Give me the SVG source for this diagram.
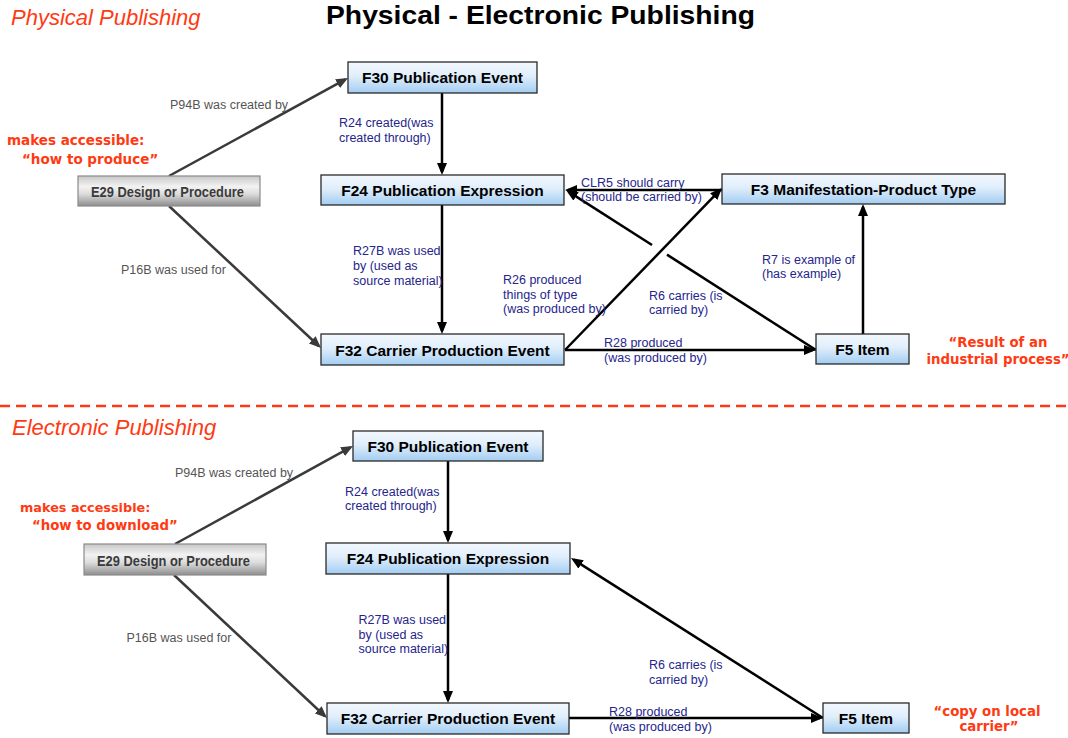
<svg xmlns="http://www.w3.org/2000/svg" width="1068" height="738" viewBox="0 0 1068 738">
  <defs>
    <linearGradient id="blueGrad" x1="0" y1="0" x2="0" y2="1">
      <stop offset="0" stop-color="#f3f8fe"/>
      <stop offset="0.45" stop-color="#e0eefb"/>
      <stop offset="1" stop-color="#a3cdf2"/>
    </linearGradient>
    <linearGradient id="grayGrad" x1="0" y1="0" x2="0" y2="1">
      <stop offset="0" stop-color="#c8c8c8"/>
      <stop offset="0.35" stop-color="#f2f2f2"/>
      <stop offset="0.6" stop-color="#dcdcdc"/>
      <stop offset="1" stop-color="#8e8e8e"/>
    </linearGradient>
    <marker id="arrowBlack" viewBox="0 0 12 10" refX="9" refY="5" markerWidth="12" markerHeight="10" markerUnits="userSpaceOnUse" orient="auto">
      <path d="M0,0 L12,5 L0,10 z" fill="#000"/>
    </marker>
    <marker id="arrowGray" viewBox="0 0 12 10" refX="9" refY="5" markerWidth="12" markerHeight="10" markerUnits="userSpaceOnUse" orient="auto">
      <path d="M0,0 L12,5 L0,10 z" fill="#3a3a3a"/>
    </marker>
  </defs>
  <style>
    .node rect { fill: url(#blueGrad); stroke: #2a2a2a; stroke-width: 1.3; }
    .node text { font-family: "Liberation Sans", Arial, sans-serif; font-weight: bold; font-size: 15.5px; fill: #000; text-anchor: middle; }
    .gnode rect { fill: url(#grayGrad); stroke: #8a8a8a; stroke-width: 1.2; }
    .gnode text { font-family: "Liberation Sans", Arial, sans-serif; font-weight: bold; font-size: 14.5px; fill: #3a3a3a; }
    .edge { stroke: #000; stroke-width: 2.5; fill: none; }
    .gedge { stroke: #3a3a3a; stroke-width: 2.5; fill: none; }
    .lbl { font-family: "Liberation Sans", Arial, sans-serif; font-size: 12.5px; fill: #25258c; }
    .glbl { font-family: "Liberation Sans", Arial, sans-serif; font-size: 12.5px; fill: #555; }
    .red { font-family: "DejaVu Sans", Verdana, sans-serif; font-size: 13.3px; font-weight: bold; fill: #ff3a12; }
    .redb { font-family: "DejaVu Sans", Verdana, sans-serif; font-size: 13.5px; font-weight: bold; fill: #ff3a12; }
    .sect { font-family: "Liberation Sans", Arial, sans-serif; font-size: 22px; font-style: italic; fill: #ff3a12; }
    .title { font-family: "Liberation Sans", Arial, sans-serif; font-size: 26px; font-weight: bold; fill: #000; }
  </style>

  <rect width="1068" height="738" fill="#fff"/>

  <!-- Titles and annotations -->
  <text class="title" x="326" y="24" textLength="429" lengthAdjust="spacingAndGlyphs">Physical - Electronic Publishing</text>
  <text class="sect" x="11" y="25">Physical Publishing</text>
  <text class="sect" x="12" y="435">Electronic Publishing</text>
  <line x1="0" y1="406" x2="1068" y2="406" stroke="#ff3a12" stroke-width="2.5" stroke-dasharray="10,6"/>

  <text class="redb" x="7" y="145">makes accessible:</text>
  <text class="redb" x="22" y="164">“how to produce”</text>
  <text class="red" x="998" y="347" text-anchor="middle">“Result of an</text>
  <text class="red" x="998" y="364" text-anchor="middle">industrial process”</text>

  <text class="red" x="20" y="512" style="font-size:12.8px">makes accessible:</text>
  <text class="red" x="32" y="530">“how to download”</text>
  <text class="red" x="987" y="716" text-anchor="middle">“copy on local</text>
  <text class="red" x="989" y="731" text-anchor="middle">carrier”</text>

  <!-- Connectors -->
  <g id="connectors">
    <!-- top section -->
    <line class="gedge" x1="169" y1="176" x2="345.4" y2="79.4" marker-end="url(#arrowGray)"/>
    <line class="gedge" x1="169" y1="206" x2="318.8" y2="346" marker-end="url(#arrowGray)"/>
    <line class="edge" x1="442" y1="93" x2="442" y2="172" marker-end="url(#arrowBlack)"/>
    <line class="edge" x1="442" y1="205" x2="442" y2="331" marker-end="url(#arrowBlack)"/>
    <line class="edge" x1="722" y1="190" x2="568" y2="190" marker-end="url(#arrowBlack)"/>
    <line class="edge" x1="565" y1="350" x2="719.9" y2="190.2" marker-end="url(#arrowBlack)"/>
    <line class="edge" x1="816" y1="350" x2="667" y2="254.6"/>
    <line class="edge" x1="652" y1="245" x2="568.5" y2="191.6" marker-end="url(#arrowBlack)"/>
    <line class="edge" x1="565" y1="350" x2="813" y2="350" marker-end="url(#arrowBlack)"/>
    <line class="edge" x1="863" y1="334" x2="863" y2="207" marker-end="url(#arrowBlack)"/>

    <text class="glbl" x="170" y="108.5">P94B was created by</text>
    <text class="glbl" x="121" y="274">P16B was used for</text>
    <text class="lbl" x="339" y="127">R24 created(was</text>
    <text class="lbl" x="339" y="141.5">created through)</text>
    <text class="lbl" x="353" y="255">R27B was used</text>
    <text class="lbl" x="353" y="270">by (used as</text>
    <text class="lbl" x="353" y="285">source material)</text>
    <text class="lbl" x="581" y="187">CLR5 should carry</text>
    <text class="lbl" x="581" y="201">(should be carried by)</text>
    <text class="lbl" x="503" y="284">R26 produced</text>
    <text class="lbl" x="503" y="298.5">things of type</text>
    <text class="lbl" x="503" y="313">(was produced by)</text>
    <text class="lbl" x="649" y="299.5">R6 carries (is</text>
    <text class="lbl" x="649" y="314">carried by)</text>
    <text class="lbl" x="604" y="347">R28 produced</text>
    <text class="lbl" x="604" y="362">(was produced by)</text>
    <text class="lbl" x="762" y="263.5">R7 is example of</text>
    <text class="lbl" x="762" y="278">(has example)</text>

    <!-- bottom section -->
    <line class="gedge" x1="175" y1="544" x2="350.4" y2="447.4" marker-end="url(#arrowGray)"/>
    <line class="gedge" x1="174" y1="575" x2="324.8" y2="716" marker-end="url(#arrowGray)"/>
    <line class="edge" x1="448" y1="461" x2="448" y2="540" marker-end="url(#arrowBlack)"/>
    <line class="edge" x1="448" y1="574" x2="448" y2="700" marker-end="url(#arrowBlack)"/>
    <line class="edge" x1="823" y1="718" x2="573.5" y2="559.6" marker-end="url(#arrowBlack)"/>
    <line class="edge" x1="569" y1="718" x2="820" y2="718" marker-end="url(#arrowBlack)"/>

    <text class="glbl" x="175" y="477">P94B was created by</text>
    <text class="glbl" x="126.5" y="642">P16B was used for</text>
    <text class="lbl" x="345" y="495.5">R24 created(was</text>
    <text class="lbl" x="345" y="510">created through)</text>
    <text class="lbl" x="358.5" y="623.5">R27B was used</text>
    <text class="lbl" x="358.5" y="638.5">by (used as</text>
    <text class="lbl" x="358.5" y="653">source material)</text>
    <text class="lbl" x="649" y="668.5">R6 carries (is</text>
    <text class="lbl" x="649" y="683.5">carried by)</text>
    <text class="lbl" x="609" y="716">R28 produced</text>
    <text class="lbl" x="609" y="731">(was produced by)</text>
  </g>

  <!-- Top nodes -->
  <g id="e29-top" class="gnode">
    <rect x="78" y="176" width="182" height="30"/>
    <text x="91" y="197" textLength="153" lengthAdjust="spacingAndGlyphs">E29 Design or Procedure</text>
  </g>
  <g id="f30-top" class="node">
    <rect x="348" y="62" width="189" height="31"/>
    <text x="442.5" y="83">F30 Publication Event</text>
  </g>
  <g id="f24-top" class="node">
    <rect x="321" y="175" width="243" height="30"/>
    <text x="442.5" y="196">F24 Publication Expression</text>
  </g>
  <g id="f32-top" class="node">
    <rect x="321" y="334" width="243" height="31"/>
    <text x="442.5" y="356">F32 Carrier Production Event</text>
  </g>
  <g id="f3-top" class="node">
    <rect x="722" y="174" width="283" height="30"/>
    <text x="863.5" y="195">F3 Manifestation-Product Type</text>
  </g>
  <g id="f5-top" class="node">
    <rect x="816" y="334" width="93" height="30"/>
    <text x="862.5" y="355">F5 Item</text>
  </g>

  <!-- Bottom nodes -->
  <g id="e29-bottom" class="gnode">
    <rect x="84" y="544" width="182" height="31"/>
    <text x="97" y="566" textLength="153" lengthAdjust="spacingAndGlyphs">E29 Design or Procedure</text>
  </g>
  <g id="f30-bottom" class="node">
    <rect x="353" y="431" width="190" height="30"/>
    <text x="448" y="452">F30 Publication Event</text>
  </g>
  <g id="f24-bottom" class="node">
    <rect x="326" y="543" width="244" height="31"/>
    <text x="448" y="564">F24 Publication Expression</text>
  </g>
  <g id="f32-bottom" class="node">
    <rect x="327" y="703" width="242" height="31"/>
    <text x="448" y="724">F32 Carrier Production Event</text>
  </g>
  <g id="f5-bottom" class="node">
    <rect x="823" y="703" width="86" height="30"/>
    <text x="866" y="724">F5 Item</text>
  </g>
</svg>
